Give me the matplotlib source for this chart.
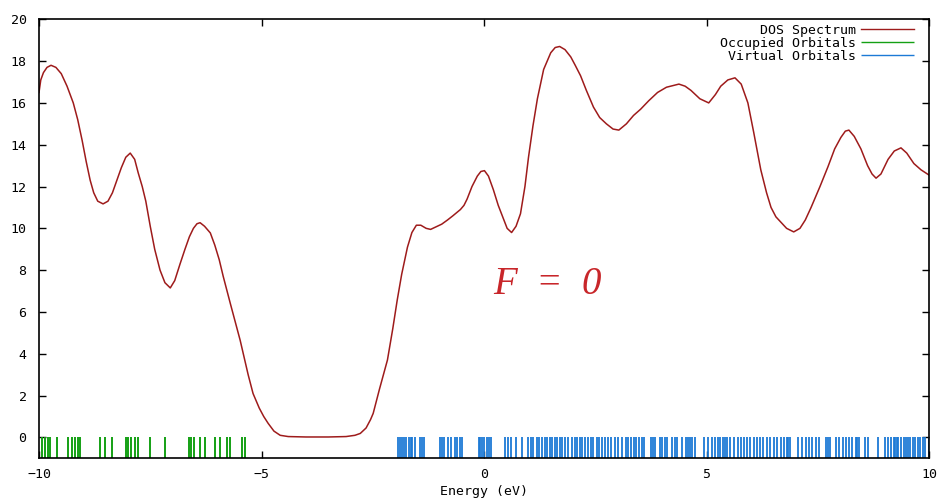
import numpy as np
import matplotlib
matplotlib.use("Agg")
import matplotlib.pyplot as plt

# DOS spectrum (energy in eV, density)
dos_energy = [-10.0, -9.96, -9.90, -9.82, -9.73, -9.62, -9.50, -9.37, -9.23, -9.13,
              -9.03, -8.94, -8.85, -8.77, -8.68, -8.56, -8.45, -8.35, -8.25, -8.15,
              -8.05, -7.95, -7.85, -7.77, -7.68, -7.60, -7.50, -7.40, -7.28, -7.17,
              -7.05, -6.95, -6.83, -6.72, -6.62, -6.53, -6.45, -6.38, -6.28, -6.15,
              -6.05, -5.95, -5.86, -5.70, -5.48, -5.30, -5.19, -5.05, -4.95, -4.85,
              -4.72, -4.58, -4.40, -4.00, -3.50, -3.10, -2.90, -2.78, -2.65, -2.55,
              -2.49, -2.35, -2.17, -2.05, -1.95, -1.85, -1.72, -1.62, -1.52, -1.42,
              -1.30, -1.20, -1.10, -0.95, -0.82, -0.70, -0.53, -0.45, -0.38, -0.27,
              -0.15, -0.07, 0.01, 0.10, 0.21, 0.32, 0.42, 0.52, 0.62, 0.72,
              0.82, 0.92, 1.00, 1.10, 1.20, 1.34, 1.50, 1.60, 1.70, 1.82,
              1.95, 2.05, 2.17, 2.30, 2.46, 2.60, 2.75, 2.90, 3.03, 3.20,
              3.36, 3.52, 3.70, 3.90, 4.10, 4.38, 4.52, 4.65, 4.85, 5.05,
              5.20, 5.32, 5.48, 5.64, 5.78, 5.93, 6.06, 6.22, 6.35, 6.45,
              6.56, 6.67, 6.80, 6.96, 7.10, 7.22, 7.35, 7.55, 7.73, 7.88,
              8.02, 8.12, 8.20, 8.32, 8.47, 8.62, 8.72, 8.81, 8.92, 9.08,
              9.22, 9.37, 9.50, 9.66, 9.82, 10.0]
dos_value = [16.5, 17.1, 17.45, 17.7, 17.8, 17.7, 17.4, 16.8, 16.0, 15.2,
             14.2, 13.2, 12.3, 11.7, 11.3, 11.17, 11.3, 11.7, 12.3, 12.9,
             13.4, 13.6, 13.3, 12.65, 12.0, 11.3, 10.1, 9.0, 8.0, 7.4,
             7.15, 7.5, 8.3, 9.0, 9.6, 10.0, 10.22, 10.27, 10.1, 9.78,
             9.2, 8.5, 7.7, 6.4, 4.65, 3.0, 2.1, 1.4, 1.0, 0.67,
             0.3, 0.1, 0.04, 0.02, 0.02, 0.04, 0.1, 0.19, 0.45, 0.85,
             1.15, 2.3, 3.7, 5.2, 6.57, 7.8, 9.1, 9.8, 10.15, 10.15,
             10.0, 9.95, 10.05, 10.2, 10.4, 10.6, 10.9, 11.1, 11.4, 12.0,
             12.5, 12.72, 12.76, 12.5, 11.85, 11.1, 10.55, 10.0, 9.8, 10.1,
             10.7, 12.0, 13.4, 14.9, 16.2, 17.6, 18.4, 18.65, 18.7, 18.55,
             18.2, 17.8, 17.3, 16.6, 15.8, 15.3, 15.0, 14.75, 14.7, 15.0,
             15.4, 15.7, 16.1, 16.5, 16.75, 16.9, 16.8, 16.6, 16.2, 16.0,
             16.4, 16.8, 17.1, 17.2, 16.9, 16.0, 14.6, 12.8, 11.7, 11.0,
             10.55, 10.3, 10.0, 9.83, 10.0, 10.4, 11.0, 12.0, 12.95, 13.8,
             14.35, 14.65, 14.7, 14.4, 13.8, 13.0, 12.6, 12.4, 12.6, 13.3,
             13.7, 13.85, 13.6, 13.1, 12.8, 12.55]

# orbital energies (eV)
occupied = [-9.93, -9.87, -9.80, -9.75, -9.60, -9.34, -9.25, -9.19, -9.12, -9.08,
            -8.63, -8.52, -8.36, -8.05, -7.99, -7.93, -7.84, -7.77, -7.50, -7.17,
            -6.64, -6.58, -6.51, -6.38, -6.27, -6.04, -5.93, -5.78, -5.70, -5.44,
            -5.37]
virtual = [-1.94, -1.89, -1.85, -1.80, -1.76, -1.69, -1.65, -1.62, -1.54, -1.43,
           -1.39, -1.35, -0.99, -0.94, -0.89, -0.81, -0.74, -0.66, -0.60, -0.53,
           -0.49, -0.12, -0.08, -0.04, 0.01, 0.07, 0.12, 0.15, 0.48, 0.54,
           0.61, 0.73, 0.86, 0.99, 1.05, 1.11, 1.18, 1.24, 1.30, 1.36,
           1.42, 1.48, 1.53, 1.59, 1.65, 1.71, 1.76, 1.83, 1.89,
           1.98, 2.04, 2.10, 2.16, 2.21, 2.28, 2.34, 2.40, 2.46, 2.53,
           2.58, 2.66, 2.71, 2.79, 2.86, 2.94, 3.01, 3.11, 3.18, 3.24,
           3.30, 3.36, 3.41, 3.48, 3.54, 3.60, 3.75, 3.79, 3.84, 3.96,
           4.01, 4.06, 4.12, 4.23, 4.29, 4.33, 4.46, 4.53, 4.59, 4.63,
           4.68, 4.74, 4.95, 5.04, 5.13, 5.19, 5.25, 5.31, 5.36, 5.41,
           5.47, 5.53, 5.62, 5.70, 5.77, 5.85, 5.92, 5.98,
           6.06, 6.13, 6.21, 6.28, 6.36, 6.43, 6.51, 6.58, 6.67, 6.75,
           6.81, 6.84, 6.88, 7.05, 7.14, 7.23, 7.31, 7.38, 7.46, 7.53,
           7.68, 7.74, 7.77, 7.91, 7.98, 8.06, 8.13, 8.21, 8.28, 8.36,
           8.39, 8.43, 8.56, 8.62, 8.85, 9.00, 9.07, 9.15, 9.21, 9.24,
           9.27, 9.30, 9.37, 9.43, 9.48, 9.53, 9.58, 9.63, 9.69, 9.75,
           9.80, 9.86, 9.91, 10.0]

xticks = [-10, -5, 0, 5, 10]
xticklabels = ["\u221210", "\u22125", "0", "5", "10"]
yticks = list(range(0, 21, 2))

dos_color = "#9e1b1b"
occ_color = "#14a014"
virt_color = "#1c7ad6"
mono = "DejaVu Sans Mono"
fs = 9.5

fig = plt.figure(figsize=(9.41, 4.98), dpi=100)
ax = fig.add_axes([39 / 941, 1 - 458.3 / 498, 890 / 941, 439 / 498])

ax.plot(dos_energy, dos_value, color=dos_color, lw=1.1, label="DOS Spectrum")
ax.vlines(occupied, -1, 0, color=occ_color, lw=1.4, label="Occupied Orbitals")
ax.vlines(virtual, -1, 0, color=virt_color, lw=1.3, label="Virtual Orbitals")

ax.set_xlim(-10, 10)
ax.set_ylim(-1, 20)
ax.set_xticks(xticks)
ax.set_xticklabels(xticklabels)
ax.set_yticks(yticks)
ax.tick_params(direction="in", top=True, right=True, length=5, width=1,
               labelsize=fs)
ax.tick_params(axis="y", pad=9)
ax.tick_params(axis="x", pad=7)
for lab in ax.get_xticklabels() + ax.get_yticklabels():
    lab.set_family(mono)
for s in ax.spines.values():
    s.set_linewidth(1.2)

ax.set_xlabel("Energy (eV)", family=mono, fontsize=fs)
ax.xaxis.label.set_va("center")
ax.xaxis.set_label_coords(0.5, -(491 - 458.3) / 439)

ax.text(1.42, 7.3, "F  =  0", color="#c8262a", fontsize=28, style="italic",
        family="Liberation Serif", ha="center", va="center")

leg = ax.legend(loc="upper right", bbox_to_anchor=(0.983, 0.99), frameon=False,
                markerfirst=False, prop={"family": mono, "size": fs},
                handlelength=4.0, labelspacing=0.0, borderaxespad=0,
                borderpad=0, handletextpad=0.4)
for h in leg.legend_handles:
    h.set_linewidth(1.0)

fig.savefig("out.png", dpi=100)
